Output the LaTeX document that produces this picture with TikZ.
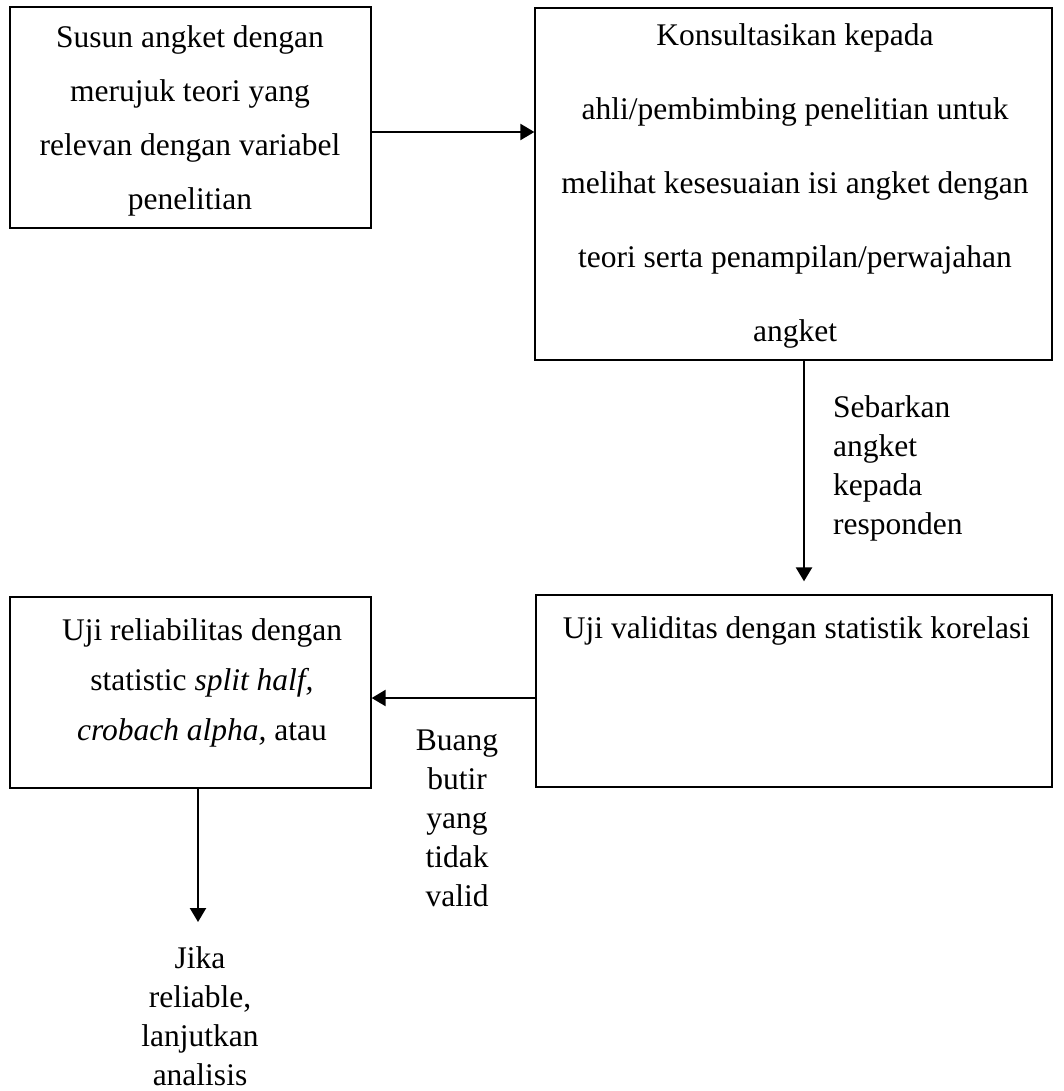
\documentclass[tikz,border=0pt]{standalone}
\usepackage{fontspec}
\setmainfont{Liberation Serif}
\usetikzlibrary{arrows.meta}
\begin{document}
\begin{tikzpicture}[x=1pt,y=-1pt,
  box/.style={draw, line width=1.3pt, rectangle, inner sep=0pt},
  arr/.style={line width=2.4pt, -{Triangle[length=14pt,width=16pt]}},
  txt/.style={inner sep=0pt, anchor=base, align=center},
  lbl/.style={inner sep=0pt, align=left, font=\fontsize{31.5}{39}\selectfont}
]
\useasboundingbox (0,0) rectangle (1063,1091);
% boxes
\node[box, minimum width=361pt, minimum height=221pt] (b1) at (190.5,117.5) {};
\node[box, minimum width=517pt, minimum height=352pt] (b2) at (793.5,184) {};
\node[box, minimum width=516pt, minimum height=192pt] (b3) at (794,691) {};
\node[box, minimum width=361pt, minimum height=191pt] (b4) at (190.5,692.5) {};
% texts in boxes (anchored at the baseline of the last line)
\node[txt, font=\fontsize{31.5}{54}\selectfont] (t1) at (190,210)
  {Susun angket dengan\\merujuk teori yang\\relevan dengan variabel\\penelitian};
\node[txt, font=\fontsize{31.5}{74}\selectfont] (t2) at (795,341)
  {Konsultasikan kepada\\ahli/pembimbing penelitian untuk\\melihat kesesuaian isi angket dengan\\teori serta penampilan/perwajahan\\angket};
\node[txt, font=\fontsize{31.5}{50}\selectfont] (t3) at (796.5,638)
  {Uji validitas dengan statistik korelasi};
\node[txt, font=\fontsize{31.5}{50}\selectfont] (t4) at (202,740)
  {Uji reliabilitas dengan\\statistic \textit{split half,}\\\textit{crobach alpha,} atau};
% labels
\node[lbl, anchor=base west] (s1) at (833,534) {Sebarkan\\angket\\kepada\\responden};
\node[lbl, anchor=base, align=center] (s2) at (457,906) {Buang\\butir\\yang\\tidak\\valid};
\node[lbl, anchor=base, align=center] (s3) at (200,1085) {Jika\\reliable,\\lanjutkan\\analisis};
% connectors
\coordinate (e4) at (198,922);
\draw[arr] (b1.east |- 0,132) -- (b2.west |- 0,132);
\draw[arr, shorten >=13pt] (b2.south -| 804,0) -- (b3.north -| 804,0);
\draw[arr] (b3.west |- 0,698) -- (b4.east |- 0,698);
\draw[arr] (b4.south -| e4) -- (e4);
\end{tikzpicture}
\end{document}
